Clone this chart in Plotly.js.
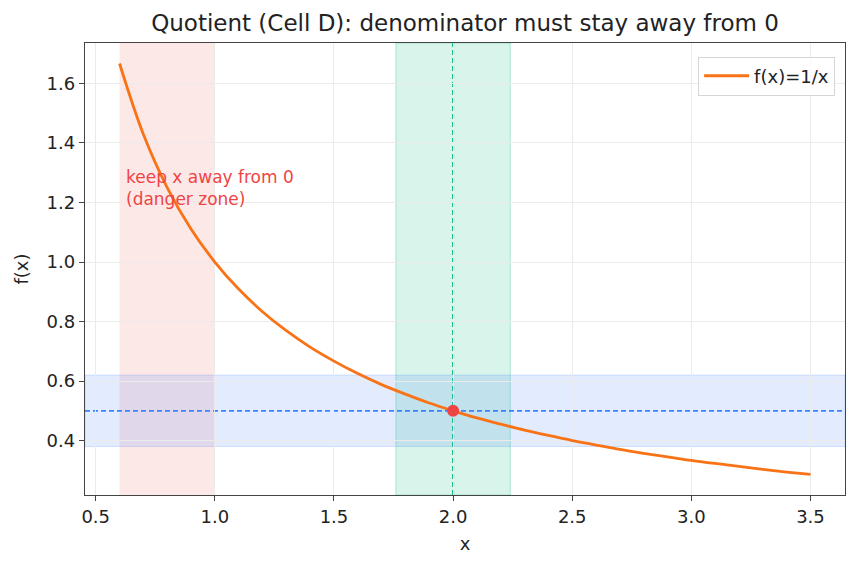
<!DOCTYPE html>
<html>
<head>
<meta charset="utf-8">
<script src="https://cdn.plot.ly/plotly-3.0.1.min.js"></script>
<style>
  html, body { margin: 0; padding: 0; background: #fff; }
  #chart { width: 858px; height: 569px; }
</style>
</head>
<body>
<div id="chart"></div>
<script>
// Sample points of f(x) = 1/x
const xs = [0.6, 0.7, 0.8, 0.9, 1.0, 1.1, 1.2, 1.3, 1.4, 1.5, 1.6, 1.7, 1.8, 1.9, 2.0,
            2.1, 2.2, 2.3, 2.4, 2.5, 2.6, 2.7, 2.8, 2.9, 3.0, 3.1, 3.2, 3.3, 3.4, 3.5];
const ys = [1.667, 1.429, 1.250, 1.111, 1.000, 0.909, 0.833, 0.769, 0.714, 0.667,
            0.625, 0.588, 0.556, 0.526, 0.500, 0.476, 0.455, 0.435, 0.417, 0.400,
            0.385, 0.370, 0.357, 0.345, 0.333, 0.323, 0.313, 0.303, 0.294, 0.286];

// Highlighted point and tolerance bands
const pointX = [2.0];
const pointY = [0.5];
const dangerX = [0.6, 1.0];
const deltaX = [1.76, 2.24];
const epsY = [0.38, 0.62];

const orange = '#f97316';
const red = '#ef4444';
const green = '#10b981';
const blue = '#3b82f6';

const traces = [
  {
    x: xs, y: ys, mode: 'lines', name: 'f(x)=1/x',
    line: { color: orange, width: 2.8, shape: 'spline' }
  },
  {
    x: pointX, y: pointY, mode: 'markers', showlegend: false,
    marker: { color: red, size: 12 }
  }
];

const layout = {
  width: 858, height: 569,
  margin: { l: 85, r: 13, t: 43, b: 74 },
  paper_bgcolor: '#fff', plot_bgcolor: '#fff',
  font: { family: 'DejaVu Sans, sans-serif', size: 18, color: '#222' },
  title: {
    text: 'Quotient (Cell D): denominator must stay away from 0',
    font: { size: 23, color: '#222' }, xref: 'paper', x: 0.5, xanchor: 'center',
    y: 0.96, yanchor: 'middle'
  },
  xaxis: {
    range: [0.455, 3.645], tickvals: [0.5, 1.0, 1.5, 2.0, 2.5, 3.0, 3.5],
    ticktext: ['0.5', '1.0', '1.5', '2.0', '2.5', '3.0', '3.5'],
    ticks: 'outside', ticklen: 5, tickcolor: '#444',
    showgrid: true, gridcolor: '#ebebeb', zeroline: false,
    showline: true, linecolor: '#444', linewidth: 1.3, mirror: true,
    title: { text: 'x', font: { size: 18 }, standoff: 11 }
  },
  yaxis: {
    range: [0.217, 1.736], tickvals: [0.4, 0.6, 0.8, 1.0, 1.2, 1.4, 1.6],
    ticktext: ['0.4', '0.6', '0.8', '1.0', '1.2', '1.4', '1.6'],
    ticks: 'outside', ticklen: 5, tickcolor: '#444',
    showgrid: true, gridcolor: '#ebebeb', zeroline: false,
    showline: true, linecolor: '#444', linewidth: 1.3, mirror: true,
    title: { text: 'f(x)', font: { size: 18 }, standoff: 13 }
  },
  showlegend: true,
  legend: {
    x: 0.987, y: 0.97, xanchor: 'right', yanchor: 'top',
    bgcolor: 'rgba(255,255,255,0.85)', bordercolor: '#d6d6d6', borderwidth: 1,
    font: { size: 18 }, itemwidth: 45, tracegroupgap: 0
  },
  shapes: [
    { type: 'rect', xref: 'x', yref: 'paper', x0: dangerX[0], x1: dangerX[1], y0: 0, y1: 1,
      fillcolor: 'rgba(239,68,68,0.12)', line: { width: 0 }, layer: 'between' },
    { type: 'rect', xref: 'x', yref: 'paper', x0: deltaX[0], x1: deltaX[1], y0: 0, y1: 1,
      fillcolor: 'rgba(16,185,129,0.16)', line: { color: 'rgba(16,185,129,0.3)', width: 1 }, layer: 'between' },
    { type: 'rect', xref: 'paper', yref: 'y', x0: 0, x1: 1, y0: epsY[0], y1: epsY[1],
      fillcolor: 'rgba(59,130,246,0.15)', line: { color: 'rgba(59,130,246,0.2)', width: 1 }, layer: 'between' },
    { type: 'line', xref: 'x', yref: 'paper', x0: pointX[0], x1: pointX[0], y0: 0, y1: 1,
      line: { color: green, width: 2, dash: '5px,3px' }, layer: 'between' },
    { type: 'line', xref: 'paper', yref: 'y', x0: 0, x1: 1, y0: pointY[0], y1: pointY[0],
      line: { color: blue, width: 1.8, dash: '5px,3px' }, layer: 'between' }
  ],
  annotations: [
    { x: 0.62, y: 1.17, xref: 'x', yref: 'y', xanchor: 'left', yanchor: 'bottom',
      text: 'keep x away from 0<br>(danger zone)', showarrow: false, align: 'left',
      font: { size: 17, color: red } }
  ]
};

Plotly.newPlot('chart', traces, layout, { displayModeBar: false, staticPlot: true });
</script>
</body>
</html>
